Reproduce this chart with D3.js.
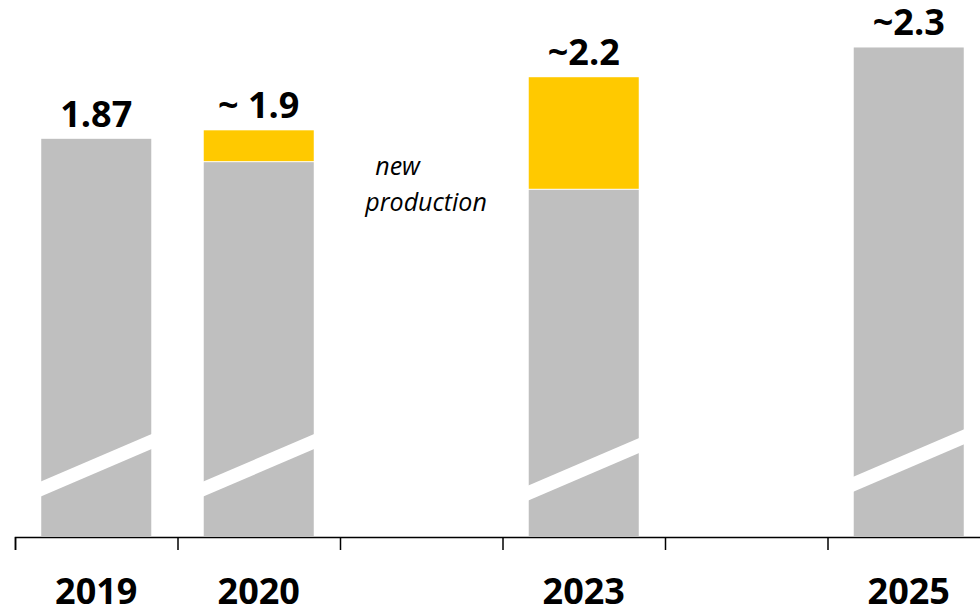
<!DOCTYPE html>
<html>
<head>
<meta charset="utf-8">
<script src="https://cdn.jsdelivr.net/npm/d3@7"></script>
<style>
  body { margin: 0; background: #fff; }
  svg { display: block; }
</style>
</head>
<body>
<div id="chart"></div>
<script>
// data
var slots = ["2019", "2020", "gapA", "2023", "gapB", "2025"];
var tickLabels = ["2019", "2020", "", "2023", "", "2025"];
var years = ["2019", "2020", "2023", "2025"];
var baseValues = [1.87, 1.76, 1.63, 2.30];   // grey part
var newValues = [0, 0.15, 0.53, 0];         // new production (yellow)
var totalLabels = ["1.87", "~ 1.9", "~2.2", "~2.3"];
var breakLevels = [0.255, 0.255, 0.236, 0.278]; // where the axis-break stripe starts (left edge)

var width = 980, height = 611;

var svg = d3.select("#chart")
  .append("svg")
    .attr("width", width)
    .attr("height", height);

// slot scale: one slot per category, bars sit inside
var xSlot = d3.scaleBand().domain(slots).range([15, 990]).padding(0);
var x = d3.scaleBand().domain(slots).range([15, 990])
  .paddingInner(0.323).paddingOuter(0.1615);
var xb = d3.scaleLinear().domain([0, slots.length]).range([15, 990]);

var y = d3.scaleLinear().domain([0, 2.5]).range([536, 5]);

var data = years.map(function(d, i) {
  return { year: d, base: baseValues[i], add: newValues[i], label: totalLabels[i], brk: breakLevels[i] };
});

var grey = "#bfbfbf", gold = "#ffc900";

// grey bars
svg.selectAll(".base")
  .data(data)
  .enter()
  .append("rect")
    .attr("class", "base")
    .attr("x", function(d) { return x(d.year); })
    .attr("width", x.bandwidth())
    .attr("y", function(d) { return y(d.base); })
    .attr("height", function(d) { return y(0) - y(d.base); })
    .attr("fill", grey);

// yellow new production
svg.selectAll(".add")
  .data(data.filter(function(d) { return d.add > 0; }))
  .enter()
  .append("rect")
    .attr("class", "add")
    .attr("x", function(d) { return x(d.year); })
    .attr("width", x.bandwidth())
    .attr("y", function(d) { return y(d.base + d.add); })
    .attr("height", function(d) { return y(d.base) - y(d.base + d.add) - 1; })
    .attr("fill", gold);

// axis break stripes
var rise = 48, thick = 15;
svg.selectAll(".brk")
  .data(data)
  .enter()
  .append("path")
    .attr("class", "brk")
    .attr("fill", "#fff")
    .attr("d", function(d) {
      var x0 = x(d.year) - 1, x1 = x(d.year) + x.bandwidth() + 1;
      var y0 = y(d.brk);
      return "M" + x0 + "," + y0 + "L" + x1 + "," + (y0 - rise) +
             "L" + x1 + "," + (y0 - rise + thick) + "L" + x0 + "," + (y0 + thick) + "Z";
    });

// value labels
svg.selectAll(".val")
  .data(data)
  .enter()
  .append("text")
    .attr("class", "val")
    .attr("x", function(d) { return x(d.year) + x.bandwidth() / 2; })
    .attr("y", function(d) { return y(d.base + d.add) - 12; })
    .attr("text-anchor", "middle")
    .style("font-family", "'Open Sans', sans-serif")
    .style("font-weight", "bold")
    .style("font-size", "36px")
    .text(function(d) { return d.label; });

// x axis with ticks at slot boundaries
var axis = svg.append("g")
  .attr("transform", "translate(0,537)")
  .call(d3.axisBottom(xb).tickValues(d3.range(slots.length + 1)).tickSize(13).tickSizeOuter(13).tickFormat(""));
axis.selectAll("path, line").attr("stroke", "#000").attr("stroke-width", 1.5);

// year labels
svg.selectAll(".yr")
  .data(slots)
  .enter()
  .append("text")
    .attr("class", "yr")
    .attr("x", function(d) { return xSlot(d) + xSlot.bandwidth() / 2; })
    .attr("y", 604)
    .attr("text-anchor", "middle")
    .style("font-family", "'Open Sans', sans-serif")
    .style("font-weight", "bold")
    .style("font-size", "36px")
    .text(function(d, i) { return tickLabels[i]; });

// annotation
var ax = xSlot("gapA") + xSlot.bandwidth() / 2;
var note = svg.append("text")
  .style("font-family", "'Open Sans', sans-serif")
  .style("font-style", "italic")
  .style("font-size", "25px");
note.append("tspan").attr("x", ax - 46).attr("y", 175).text("new");
note.append("tspan").attr("x", ax - 56).attr("y", 211).text("production");
</script>
</body>
</html>
